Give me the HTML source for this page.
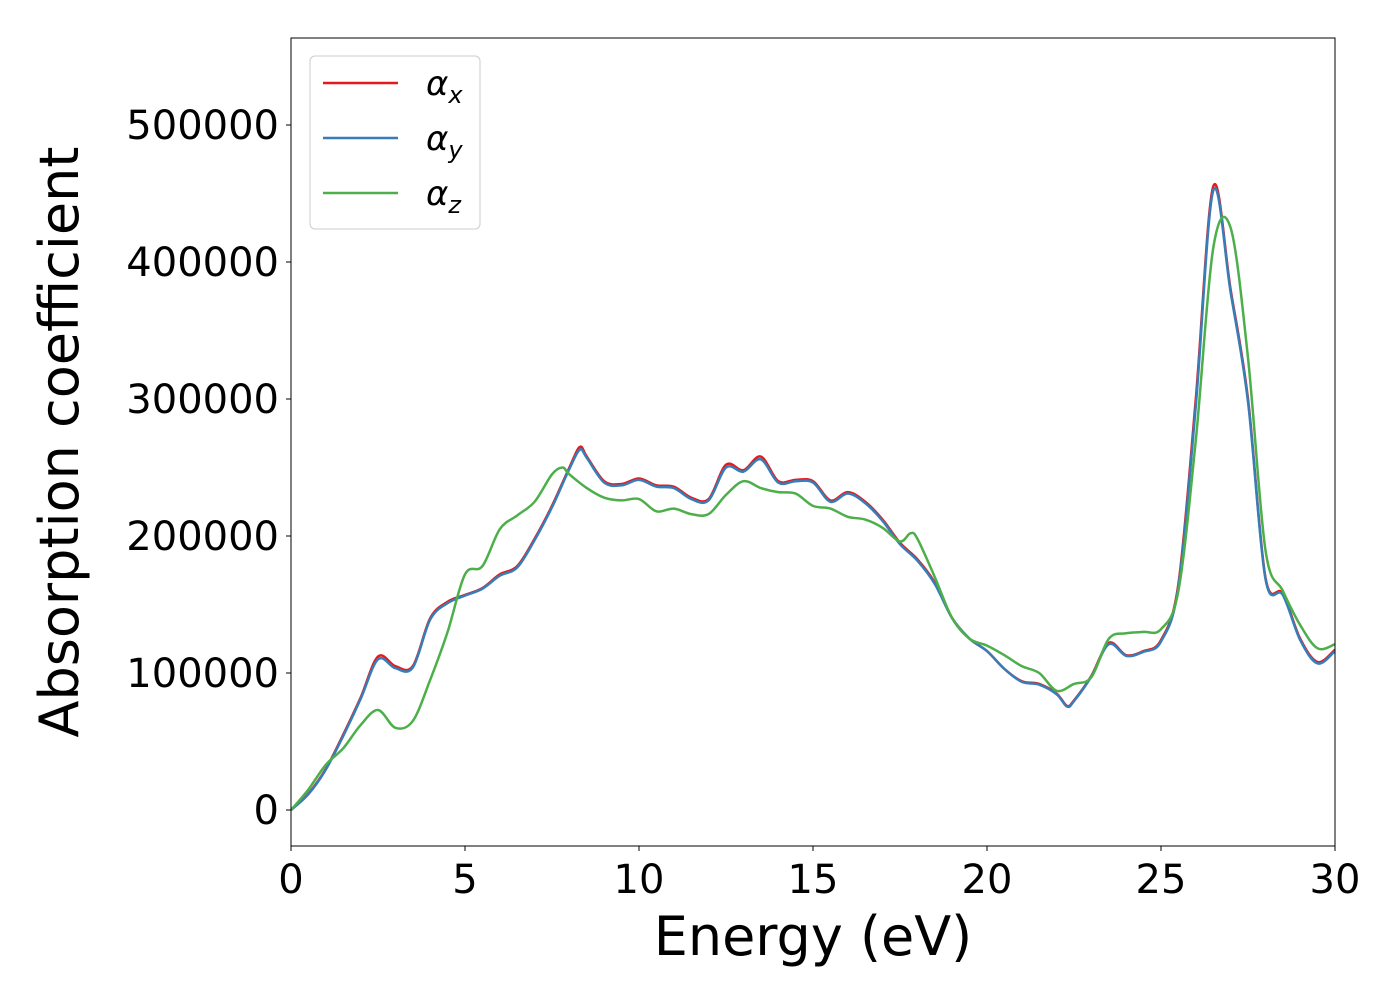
<!DOCTYPE html>
<html><head><meta charset="utf-8"><style>
body{margin:0;background:#fff;}
svg text{font-family:"DejaVu Sans","Liberation Sans",sans-serif;fill:#000;}
</style></head><body>
<svg width="1400" height="1000" xmlns="http://www.w3.org/2000/svg">
<g id="plot"></g>
</svg>
<script>
const xTicks=[0,5,10,15,20,25,30];
const yTicks=[0,100000,200000,300000,400000,500000];
const ex=[0,0.5,1,1.5,2,2.5,3,3.5,4,4.5,5,5.5,6,6.5,7,7.5,8,8.3,8.5,9,9.5,10,10.5,11,11.5,12,12.5,13,13.5,14,14.5,15,15.5,16,16.5,17,17.5,18,18.5,19,19.5,20,20.5,21,21.5,22,22.3,22.5,23,23.5,24,24.5,25,25.5,26,26.5,27,27.5,28,28.5,29,29.5,30];
const alphaX=[0,12000,30000,55000,82000,112000,105000,105000,140000,152000,157000,162000,172000,178000,198000,222000,250000,265000,258000,240000,238000,242000,237000,236000,228000,227000,252000,248000,258000,240000,241000,240000,226000,232000,225000,212000,195000,183000,166000,140000,125000,116000,103000,94000,92000,85000,76000,80000,98000,122000,113000,116000,124000,165000,300000,455000,380000,300000,170000,158000,125000,108000,117000];
const alphaY=[0,11500,29500,54000,81000,110000,103500,104000,139000,151000,156500,161500,171000,177000,197000,221000,249000,263000,257000,239000,237000,241000,236000,235000,227000,226000,250000,247000,256000,239000,240000,239000,225000,231000,224000,211000,194000,182000,165000,140000,125000,116000,103000,93500,91500,84500,75500,79500,97500,121000,112500,115500,123000,163000,295000,452000,378000,298000,169000,157000,124000,107000,116000];
const ez=[0,0.5,1,1.5,2,2.5,3,3.5,4,4.5,5,5.5,6,6.5,7,7.5,7.8,8,8.5,9,9.5,10,10.5,11,11.5,12,12.5,13,13.5,14,14.5,15,15.5,16,16.5,17,17.5,17.8,18,18.5,19,19.5,20,20.5,21,21.5,22,22.5,23,23.5,24,24.5,25,25.5,26,26.5,27,27.5,28,28.5,29,29.5,30];
const alphaZ=[0,15000,33000,45000,62000,73000,60000,65000,95000,130000,172000,178000,205000,215000,225000,245000,250000,245000,235000,228000,226000,227000,218000,220000,216000,216000,230000,240000,235000,232000,231000,222000,220000,214000,212000,206000,196000,202000,198000,170000,140000,125000,120000,113000,105000,100000,87000,92000,97000,125000,129000,130000,132000,160000,270000,410000,425000,330000,190000,160000,135000,118000,121000];
const L=291,R=1335,T=38,B=846;
const X=v=>L+(v/30)*(R-L);
const Y=v=>810-v/100000*137;
const NS="http://www.w3.org/2000/svg";
const g=document.getElementById('plot');
function mk(tag,attrs,txt){const e=document.createElementNS(NS,tag);for(const k in attrs)e.setAttribute(k,attrs[k]);if(txt!==undefined)e.textContent=txt;g.appendChild(e);return e;}
function path(xs,ys){let d='';for(let i=0;i<xs.length;i++){const px=X(xs[i]),py=Y(ys[i]);if(i===0){d+='M'+px+','+py;continue;}const p0=[X(xs[Math.max(i-2,0)]),Y(ys[Math.max(i-2,0)])],p1=[X(xs[i-1]),Y(ys[i-1])],p2=[px,py],p3=[X(xs[Math.min(i+1,xs.length-1)]),Y(ys[Math.min(i+1,xs.length-1)])];const c1=[p1[0]+(p2[0]-p0[0])/6,p1[1]+(p2[1]-p0[1])/6],c2=[p2[0]-(p3[0]-p1[0])/6,p2[1]-(p3[1]-p1[1])/6];d+=' C'+c1+' '+c2+' '+p2;}return d;}
const defs=document.createElementNS(NS,'defs');defs.innerHTML='<clipPath id="cp"><rect x="'+L+'" y="'+T+'" width="'+(R-L)+'" height="'+(B-T)+'"/></clipPath>';g.appendChild(defs);
const series=[[ex,alphaX,'#e41a1c','series-alpha-x'],[ex,alphaY,'#377eb8','series-alpha-y'],[ez,alphaZ,'#4daf4a','series-alpha-z']];
series.forEach(s=>{const p=mk('path',{d:path(s[0],s[1]),fill:'none',stroke:s[2],'stroke-width':2.5,'clip-path':'url(#cp)'});});
const fr=mk('rect',{x:L,y:T,width:R-L,height:B-T,fill:'none',stroke:'#000','stroke-width':1});

xTicks.forEach(v=>{const t=mk('line',{x1:X(v),x2:X(v),y1:B,y2:B+5,stroke:'#000'});
const l=mk('text',{x:X(v),y:B+47,'font-size':40,'text-anchor':'middle'},String(v));});
yTicks.forEach(v=>{const t=mk('line',{x1:L-5,x2:L,y1:Y(v),y2:Y(v),stroke:'#000'});
const l=mk('text',{x:L-12,y:Y(v)+14,'font-size':40,'text-anchor':'end'},String(v));});
const xl=mk('text',{x:813,y:955,'font-size':54,'text-anchor':'middle'},'Energy (eV)');
const yl=mk('text',{x:0,y:0,'font-size':54,'text-anchor':'middle',transform:'translate(78,442) rotate(-90)'},'Absorption coefficient');
const lb=mk('rect',{x:310,y:56,width:170,height:173,rx:5,fill:'#fff',stroke:'#ccc','stroke-width':1});
const subs=['x','y','z'];
series.forEach((s,i)=>{const yy=83+i*55;const ln=mk('line',{x1:323,x2:398,y1:yy,y2:yy,stroke:s[2],'stroke-width':2.5});
const t=mk('text',{x:426,y:yy+12,'font-size':34,'font-style':'italic'});t.innerHTML='α<tspan font-size="24" dy="8">'+subs[i]+'</tspan>';});
</script>
</body></html>
